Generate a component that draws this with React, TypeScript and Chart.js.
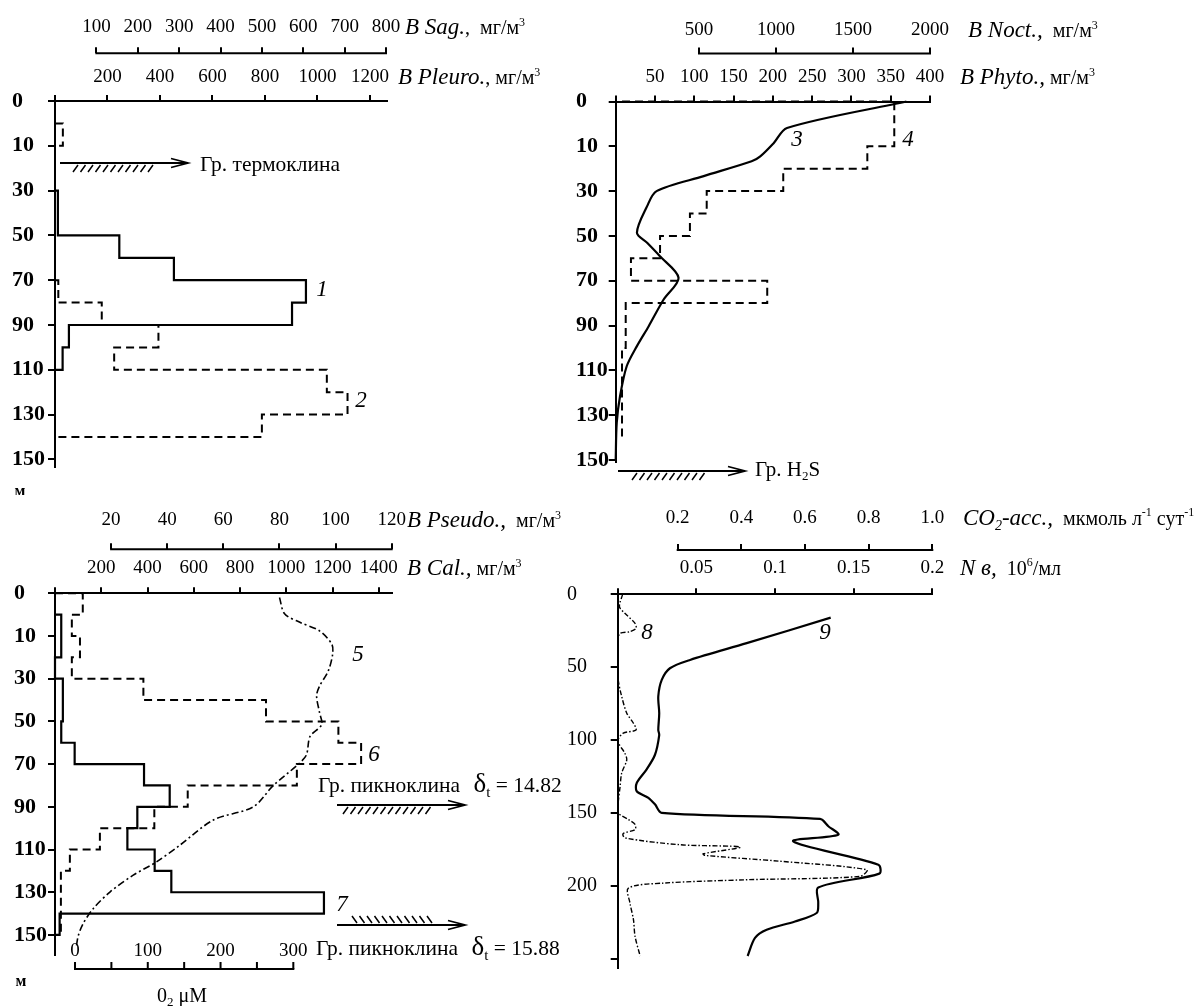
import { useEffect, useRef } from 'react';
import { Chart, registerables } from 'chart.js';

Chart.register(...registerables);

const SERIF = '"Liberation Serif", "Times New Roman", serif';
Chart.defaults.font.family = SERIF;
Chart.defaults.color = '#000';

// ---------- axis ticks ----------
const DEPTH_TICKS = [0, 10, 30, 50, 70, 90, 110, 130, 150];
const DEPTH_TICKS_N = [0, 50, 100, 150, 200, 250];
const DEPTH_LABELS_N = ['0', '50', '100', '150', '200', ''];
const PLEURO_TICKS = [0, 200, 400, 600, 800, 1000, 1200];
const SAG_TICKS = [100, 200, 300, 400, 500, 600, 700, 800];
const PHYTO_TICKS = [0, 50, 100, 150, 200, 250, 300, 350, 400];
const NOCT_TICKS = [500, 1000, 1500, 2000];
const CAL_TICKS = [0, 200, 400, 600, 800, 1000, 1200, 1400];
const PSEUDO_TICKS = [20, 40, 60, 80, 100, 120];
const O2_TICKS = [0, 50, 100, 150, 200, 250, 300];
const O2_LABELS = ['0', '', '100', '', '200', '', '300'];
const NB_TICKS = [0, 0.05, 0.1, 0.15, 0.2];
const CO2_TICKS = [0.2, 0.4, 0.6, 0.8, 1.0];

// ---------- series ----------
// 1 – B Pleuro. (layers: depth edges, values)
const S1_EDGES = [30, 50, 60, 70, 80, 90, 100, 110];
const S1_VALUES = [11, 245, 453, 956, 903, 53, 29];
// 2 – B Sag.
const S2A_EDGES = [5, 10];
const S2A_VALUES = [19];
const S2B_EDGES = [70, 80, 90, 100, 110, 120, 130, 140];
const S2B_VALUES = [8, 113, 250, 143, 657, 707, 500];
// 3 – B Phyto. (profile)
const S3_DEPTH = [0, 5.9, 9.3, 14.5, 16.7, 23.3, 30, 36.7, 48.6, 53.1, 59, 68.7, 78.4, 90.3, 99.2, 108.2, 121.6, 133.5, 150];
const S3_VALUE = [370, 218, 201, 184, 173, 112, 52, 40, 27, 40, 56, 80, 61, 42, 27, 14, 5.5, 1.3, 0];
// 4 – B Noct. (layers)
const S4_EDGES = [0, 10, 20, 30, 40, 50, 60, 70, 80, 100, 140];
const S4_VALUES = [1768, 1593, 1047, 550, 441, 247, 58, 943, 24, 0];
// 5 – O2, µM (profile)
const S5_DEPTH = [1, 4.8, 6.8, 8.8, 13.9, 18.6, 26.4, 33.5, 38, 45.8, 51.5, 57, 65.7, 70, 80.2, 90, 96.2, 108, 115.8, 122, 129.9, 137.7, 144.8, 150.3, 155];
const S5_VALUE = [281, 288, 309, 336, 353, 354, 348, 336, 332, 336, 339, 323, 318, 307, 272, 245, 190, 144, 112, 80, 48, 25, 11, 4.5, 2];
// 6 – B Pseudo. (layers)
const S6_EDGES = [0, 5, 10, 20, 30, 40, 50, 60, 70, 80, 90, 100, 110, 120, 150];
const S6_VALUES = [9.9, 6, 8.9, 6, 31.5, 75.2, 101, 109.1, 86.2, 47.3, 35.4, 16, 5.3, 2.1];
// 7 – B Cal. (layers)
const S7_EDGES = [5, 20, 30, 50, 60, 70, 80, 90, 100, 110, 120, 130, 140, 150];
const S7_VALUES = [27, 0, 34, 27, 85, 385, 496, 356, 313, 431, 503, 1163, 20];
// 8 – CO2-acc. (profile)
const S8_DEPTH = [0, 8.5, 13, 19.9, 23.3, 25.6, 27.2, 35.9, 42.7, 49.6, 58.7, 70, 81.5, 88.4, 93, 95.2, 100.5, 109, 113.5, 122.6, 131.8, 143, 149.8, 154.4, 157.8, 161.3, 164, 167, 171.7, 173.3, 177.9, 179, 183, 188.8, 193.4, 195.7, 198, 201.4, 211.6, 223, 234.5, 248];
const S8_VALUE = [0.027, 0.017, 0.034, 0.066, 0.069, 0.05, 0.017, 0.012, 0.013, 0.012, 0.013, 0.024, 0.04, 0.061, 0.069, 0.029, 0.012, 0.034, 0.04, 0.024, 0.019, 0.013, 0.013, 0.045, 0.066, 0.066, 0.029, 0.034, 0.207, 0.396, 0.28, 0.286, 0.521, 0.794, 0.773, 0.417, 0.155, 0.045, 0.05, 0.061, 0.066, 0.082];
// 9 – N bacteria, 10^6/ml (profile)
const S9_DEPTH = [16, 33.5, 45, 50.7, 58.7, 70, 81.5, 93, 96.5, 110, 120, 129.4, 135, 139.5, 144, 149.8, 154, 159, 164.8, 169.4, 185.4, 191.5, 201, 211.6, 218.5, 224.3, 230, 235.6, 248];
const S9_VALUE = [0.1354, 0.082, 0.046, 0.0332, 0.028, 0.0258, 0.0264, 0.0258, 0.0264, 0.0237, 0.0184, 0.0121, 0.0121, 0.0195, 0.0237, 0.028, 0.1286, 0.1339, 0.1402, 0.1116, 0.1657, 0.1663, 0.1275, 0.1275, 0.1265, 0.1127, 0.0947, 0.0873, 0.0826];

// ---------- helpers ----------
const depthIdx = (d: number) => (d <= 10 ? d / 10 : 1 + (d - 10) / 20);
const ident = (d: number) => d;

function layerPath(edges: number[], values: number[]) {
  const pts = [{ x: 0, y: depthIdx(edges[0]) }];
  values.forEach((v, i) => {
    pts.push({ x: v, y: depthIdx(edges[i]) });
    pts.push({ x: v, y: depthIdx(edges[i + 1]) });
  });
  pts.push({ x: 0, y: depthIdx(edges[edges.length - 1]) });
  return pts;
}
const profile = (depths: number[], values: number[], map = depthIdx) =>
  depths.map((d, i) => ({ x: values[i], y: map(d) }));

const DASH = [8, 5];
function line(data: any[], xAxisID: string, opts: any = {}) {
  return {
    data, xAxisID, yAxisID: 'y', showLine: true, pointRadius: 0, borderColor: '#000',
    borderWidth: 2.2, fill: false, tension: 0, clip: false, ...opts,
  };
}

const f = (size: number, style = '') => `${style} ${size}px ${SERIF}`;
const TICK_SIZE = 19;

function topAxis(o: any) {
  return {
    type: 'linear', position: 'top', weight: o.weight, min: o.min, max: o.max, bounds: 'data',
    afterBuildTicks: (s: any) => { s.ticks = o.ticks.map((v: number) => ({ value: v })); },
    afterFit: (s: any) => { s.height = o.height; s.paddingLeft = 0; s.paddingRight = 0; },
    ticks: {
      autoSkip: false, maxRotation: 0, padding: o.pad, font: { size: TICK_SIZE }, color: '#000',
      callback: o.fmt || ((v: number) => String(v)),
    },
    grid: { drawOnChartArea: false, drawTicks: true, tickLength: 6, color: '#000', lineWidth: 2 },
    border: { display: o.border, color: '#000', width: 2 },
  };
}

function depthAxis(o: any) {
  return {
    type: 'linear', position: 'left', reverse: true, min: 0, max: o.max, bounds: 'data',
    afterBuildTicks: (s: any) => { s.ticks = o.values.map((v: number) => ({ value: v })); },
    afterFit: (s: any) => { s.width = o.width; s.paddingTop = 0; s.paddingBottom = 0; },
    ticks: {
      autoSkip: false, crossAlign: 'far', padding: 0, color: '#000',
      font: { size: o.size, weight: o.bold ? 'bold' : 'normal' },
      callback: (_v: number, i: number) => o.labels[i],
    },
    grid: { drawOnChartArea: false, drawTicks: true, tickLength: 7, color: '#000', lineWidth: 2 },
    border: { display: true, color: '#000', width: 2 },
  };
}

type Part = [string, string, number?];
function rich(ctx: CanvasRenderingContext2D, x: number, y: number, parts: Part[]) {
  ctx.textAlign = 'left';
  ctx.textBaseline = 'alphabetic';
  ctx.fillStyle = '#000';
  let cx = x;
  for (const [t, font, dy = 0] of parts) {
    ctx.font = font;
    ctx.fillText(t, cx, y + dy);
    cx += ctx.measureText(t).width;
  }
}
function label(ctx: CanvasRenderingContext2D, t: string, x: number, y: number, font = f(23, 'italic')) {
  ctx.font = font;
  ctx.fillStyle = '#000';
  ctx.textAlign = 'center';
  ctx.textBaseline = 'middle';
  ctx.fillText(t, x, y);
}
function arrow(ctx: CanvasRenderingContext2D, x1: number, x2: number, y: number) {
  ctx.strokeStyle = '#000';
  ctx.lineWidth = 1.8;
  ctx.beginPath();
  ctx.moveTo(x1, y);
  ctx.lineTo(x2, y);
  ctx.moveTo(x2 - 17, y - 4.5);
  ctx.lineTo(x2, y);
  ctx.lineTo(x2 - 17, y + 4.5);
  ctx.stroke();
}
function hatch(ctx: CanvasRenderingContext2D, x1: number, x2: number, y: number, below: boolean) {
  ctx.strokeStyle = '#000';
  ctx.lineWidth = 1.5;
  ctx.beginPath();
  for (let x = x1; x <= x2 - 5; x += 7.5) {
    if (below) { ctx.moveTo(x, y + 9); ctx.lineTo(x + 5, y + 2); }
    else { ctx.moveTo(x, y - 9); ctx.lineTo(x + 5, y - 2); }
  }
  ctx.stroke();
}
function partialAxis(ctx: CanvasRenderingContext2D, s: any, ticks: number[], y: number) {
  ctx.strokeStyle = '#000';
  ctx.lineWidth = 2;
  ctx.beginPath();
  ctx.moveTo(s.getPixelForValue(ticks[0]) - 1, y);
  ctx.lineTo(s.getPixelForValue(ticks[ticks.length - 1]) + 1, y);
  ctx.stroke();
}
function deco(L: number, T: number, draw: (ctx: CanvasRenderingContext2D, chart: any) => void, global: (ctx: CanvasRenderingContext2D) => void) {
  return {
    id: 'deco',
    afterDraw(chart: any) {
      const ctx = chart.ctx as CanvasRenderingContext2D;
      ctx.save();
      draw(ctx, chart);
      ctx.translate(-L, -T);
      global(ctx);
      ctx.restore();
    },
  };
}

const IT = f(23, 'italic');
const UN = f(20);
const SUP = f(12);
const NOTE = f(21.5);

function baseOptions(padding: any, scales: any) {
  return {
    responsive: false, animation: false, events: [],
    layout: { padding },
    plugins: { legend: { display: false }, tooltip: { enabled: false } },
    scales,
  };
}

// ---------- panel configs ----------
function cfgTL() {
  return {
    type: 'scatter',
    data: {
      datasets: [
        line(layerPath(S1_EDGES, S1_VALUES), 'x'),
        line(layerPath(S2A_EDGES, S2A_VALUES), 'x2', { borderDash: DASH, borderWidth: 2 }),
        line(layerPath(S2B_EDGES, S2B_VALUES), 'x2', { borderDash: DASH, borderWidth: 2 }),
      ],
    },
    options: baseOptions({ left: 12, right: 173, top: 0, bottom: 28 }, {
      x: topAxis({ min: 0, max: 1264.8, ticks: PLEURO_TICKS, height: 47.7, pad: 6.9, weight: 0, border: true, fmt: (v: number) => (v === 0 ? '' : String(v)) }),
      x2: topAxis({ min: 0, max: 802.4, ticks: SAG_TICKS, height: 53.3, pad: 9.2, weight: 1, border: false }),
      y: depthAxis({ max: 8.17, width: 43, values: DEPTH_TICKS.map((_, i) => i), labels: DEPTH_TICKS.map(String), size: 22, bold: true }),
    }),
    plugins: [deco(0, 0, (ctx, c) => partialAxis(ctx, c.scales.x2, SAG_TICKS, c.scales.x2.bottom), (ctx) => {
      rich(ctx, 405, 34, [['B Sag.', IT], [',  мг/м', UN], ['3', SUP, -8]]);
      rich(ctx, 398, 84, [['B Pleuro.', IT], [', мг/м', UN], ['3', SUP, -8]]);
      arrow(ctx, 60, 188, 163);
      hatch(ctx, 73, 153, 163, true);
      rich(ctx, 200, 171, [['Гр. термоклина', NOTE]]);
      label(ctx, '1', 322, 290);
      label(ctx, '2', 361, 401);
      label(ctx, 'м', 20, 492, f(16, 'bold'));
    })],
  };
}

function cfgTR() {
  return {
    type: 'scatter',
    data: {
      datasets: [
        line(profile(S3_DEPTH, S3_VALUE), 'x', { tension: 0.3 }),
        line(layerPath(S4_EDGES, S4_VALUES), 'x2', { borderDash: DASH, borderWidth: 2 }),
      ],
    },
    options: baseOptions({ left: 16, right: 266, top: 0, bottom: 33.3 }, {
      x: topAxis({ min: 0, max: 400, ticks: PHYTO_TICKS, height: 48, pad: 7.4, weight: 0, border: true, fmt: (v: number) => (v === 0 ? '' : String(v)) }),
      x2: topAxis({ min: -41, max: 2000, ticks: NOCT_TICKS, height: 53.5, pad: 6.1, weight: 1, border: false }),
      y: depthAxis({ max: 8.04, width: 39.7, values: DEPTH_TICKS.map((_, i) => i), labels: DEPTH_TICKS.map(String), size: 22, bold: true }),
    }),
    plugins: [deco(560, 0, (ctx, c) => partialAxis(ctx, c.scales.x2, NOCT_TICKS, c.scales.x2.bottom), (ctx) => {
      rich(ctx, 968, 37, [['B Noct.,', IT], ['  мг/м', UN], ['3', SUP, -8]]);
      rich(ctx, 960, 84, [['B Phyto.,', IT], [' мг/м', UN], ['3', SUP, -8]]);
      label(ctx, '3', 797, 140);
      label(ctx, '4', 908, 140);
      arrow(ctx, 618, 745, 471);
      hatch(ctx, 632, 710, 471, true);
      rich(ctx, 755, 476, [['Гр. H', f(21)], ['2', f(13), 4], ['S', f(21)]]);
    })],
  };
}

function cfgBL() {
  return {
    type: 'scatter',
    data: {
      datasets: [
        line(layerPath(S7_EDGES, S7_VALUES), 'x'),
        line(layerPath(S6_EDGES, S6_VALUES), 'x2', { borderDash: DASH, borderWidth: 2 }),
        line(profile(S5_DEPTH, S5_VALUE), 'x3', { borderDash: [7, 3, 2, 3], borderWidth: 1.6, tension: 0.3 }),
      ],
    },
    options: baseOptions({ left: 14, right: 188.3, top: 0, bottom: 0 }, {
      x: topAxis({ min: 0, max: 1456, ticks: CAL_TICKS, height: 44, pad: 7.6, weight: 0, border: true, fmt: (v: number) => (v === 0 ? '' : String(v)) }),
      x2: topAxis({ min: 0, max: 120, ticks: PSEUDO_TICKS, height: 54.3, pad: 11.9, weight: 1, border: false }),
      x3: {
        type: 'linear', position: 'bottom', min: -27.5, max: 435.2, bounds: 'data',
        afterBuildTicks: (s: any) => { s.ticks = O2_TICKS.map((v) => ({ value: v })); },
        afterFit: (s: any) => { s.height = 51; s.paddingLeft = 0; s.paddingRight = 0; },
        ticks: { autoSkip: false, maxRotation: 0, mirror: true, padding: -7.5, font: { size: TICK_SIZE }, color: '#000', callback: (_v: number, i: number) => O2_LABELS[i] },
        grid: { display: false },
        border: { display: false },
      },
      y: depthAxis({ max: 8.47, width: 41, values: DEPTH_TICKS.map((_, i) => i), labels: DEPTH_TICKS.map(String), size: 22, bold: true }),
    }),
    plugins: [deco(0, 495, (ctx, c) => {
      partialAxis(ctx, c.scales.x2, PSEUDO_TICKS, c.scales.x2.bottom);
      const o2 = c.scales.x3;
      const yy = 969 - 495;
      partialAxis(ctx, o2, O2_TICKS, yy);
      ctx.beginPath();
      O2_TICKS.forEach((v) => { const px = o2.getPixelForValue(v); ctx.moveTo(px, yy); ctx.lineTo(px, yy - 7); });
      ctx.stroke();
    }, (ctx) => {
      rich(ctx, 407, 527, [['B Pseudo.,', IT], ['  мг/м', UN], ['3', SUP, -8]]);
      rich(ctx, 407, 575, [['B Cal.,', IT], [' мг/м', UN], ['3', SUP, -8]]);
      label(ctx, '5', 358, 655);
      label(ctx, '6', 374, 755);
      label(ctx, '7', 342, 905);
      rich(ctx, 318, 792, [['Гр. пикноклина', NOTE], ['  δ', f(27)], ['t', f(15), 5], [' = 14.82', NOTE]]);
      arrow(ctx, 337, 465, 805);
      hatch(ctx, 343, 433, 805, true);
      arrow(ctx, 337, 465, 925);
      hatch(ctx, 352, 432, 925, false);
      rich(ctx, 316, 955, [['Гр. пикноклина', NOTE], ['  δ', f(27)], ['t', f(15), 5], [' = 15.88', NOTE]]);
      label(ctx, 'м', 21, 982, f(16, 'bold'));
      rich(ctx, 157, 1002, [['0', f(20)], ['2', f(13), 4], [' μM', f(20)]]);
    })],
  };
}

function cfgBR() {
  return {
    type: 'scatter',
    data: {
      datasets: [
        line(profile(S9_DEPTH, S9_VALUE, ident), 'x', { tension: 0.3 }),
        line(profile(S8_DEPTH, S8_VALUE, ident), 'x2', { borderDash: [5, 2, 1.5, 2], borderWidth: 1.4, tension: 0.3 }),
      ],
    },
    options: baseOptions({ left: 7, right: 263.7, top: 0, bottom: 38 }, {
      x: topAxis({ min: 0, max: 0.2, ticks: NB_TICKS, height: 44.3, pad: 8.9, weight: 0, border: true, fmt: (v: number) => (v === 0 ? '' : String(v)) }),
      x2: topAxis({ min: 0.0115, max: 1.0, ticks: CO2_TICKS, height: 55, pad: 14.6, weight: 1, border: false, fmt: (v: number) => v.toFixed(1) }),
      y: depthAxis({ max: 256.2, width: 50.7, values: DEPTH_TICKS_N, labels: DEPTH_LABELS_N, size: 20, bold: false }),
    }),
    plugins: [deco(560, 495, (ctx, c) => partialAxis(ctx, c.scales.x2, CO2_TICKS, c.scales.x2.bottom), (ctx) => {
      rich(ctx, 963, 525, [['CO', IT], ['2', f(14, 'italic'), 5], ['-acc.,', IT], ['  мкмоль л', UN], ['-1', SUP, -9], [' сут', UN], ['-1', SUP, -9]]);
      rich(ctx, 960, 575, [['N в,', IT], ['  10', UN], ['6', SUP, -9], ['/мл', UN]]);
      label(ctx, '8', 647, 633);
      label(ctx, '9', 825, 633);
    })],
  };
}

function Panel({ left, top, width, height, make }: { left: number; top: number; width: number; height: number; make: () => any }) {
  const ref = useRef<HTMLCanvasElement>(null);
  useEffect(() => {
    const chart = new Chart(ref.current as HTMLCanvasElement, make());
    return () => chart.destroy();
  }, []);
  return (
    <canvas
      ref={ref}
      width={width}
      height={height}
      style={{ position: 'absolute', left, top, width, height }}
    />
  );
}

export default function App() {
  return (
    <div style={{ position: 'absolute', left: 0, top: 0, width: 1196, height: 1006, background: '#fff', overflow: 'hidden' }}>
      <Panel left={0} top={0} width={560} height={495} make={cfgTL} />
      <Panel left={560} top={0} width={636} height={495} make={cfgTR} />
      <Panel left={0} top={495} width={580} height={511} make={cfgBL} />
      <Panel left={560} top={495} width={636} height={511} make={cfgBR} />
    </div>
  );
}
